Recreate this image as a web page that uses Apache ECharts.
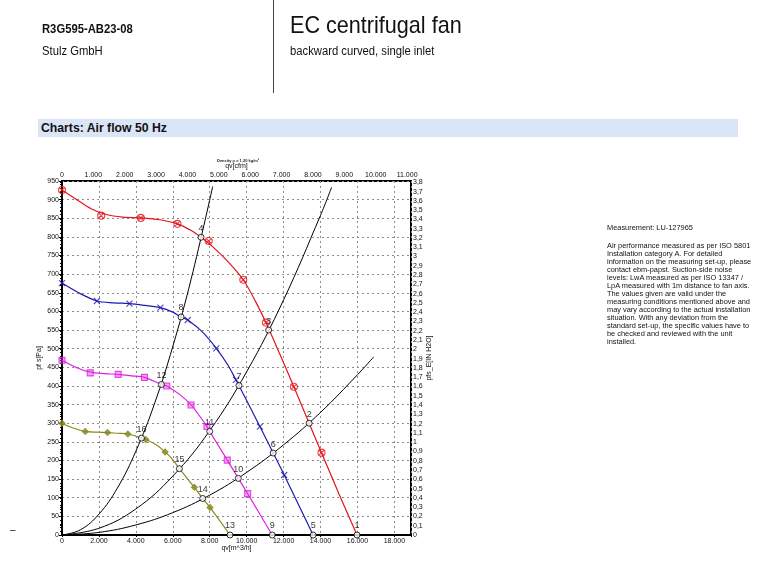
<!DOCTYPE html>
<html>
<head>
<meta charset="utf-8">
<title>R3G595-AB23-08 air flow 50 Hz</title>
<script src="https://cdn.jsdelivr.net/npm/echarts@6/dist/echarts.min.js"></script>
<style>
  body { margin: 0; background: #fff; font-family: "Liberation Sans", Arial, sans-serif; color: #111; }
  #chart { position: absolute; left: 0; top: 0; width: 761px; height: 577px; }
  .t { position: absolute; white-space: nowrap; line-height: 1; transform: scaleX(0.9); transform-origin: 0 0; }
  .vline { position: absolute; left: 273px; top: 0; width: 1px; height: 93px; background: #444; }
  .bar { position: absolute; left: 38px; top: 119px; width: 700px; height: 18px; background: #dbe5f8; }
  .note { position: absolute; left: 607px; top: 242px; font-size: 7.4px; line-height: 8px; white-space: nowrap; }
</style>
</head>
<body>
<div id="chart"></div>
<div class="t" style="left:42px;top:23px;font-size:12.5px;font-weight:bold;">R3G595-AB23-08</div>
<div class="t" style="left:42px;top:45px;font-size:12.5px;">Stulz GmbH</div>
<div class="vline"></div>
<div class="t" style="left:290px;top:13px;font-size:24px;">EC centrifugal fan</div>
<div class="t" style="left:290px;top:45px;font-size:12.5px;">backward curved, single inlet</div>
<div class="bar"></div>
<div class="t" style="left:41px;top:121px;font-size:13px;font-weight:bold;transform:scaleX(0.94);">Charts: Air flow 50 Hz</div>
<div class="t" style="left:10px;top:524px;font-size:11px;">&ndash;</div>
<div class="t" style="left:607px;top:224px;font-size:7.4px;transform:none;">Measurement: LU-127965</div>
<div class="note">Air performance measured as per ISO 5801<br>Installation category A. For detailed<br>information on the measuring set-up, please<br>contact ebm-papst. Suction-side noise<br>levels: LwA measured as per ISO 13347 /<br>LpA measured with 1m distance to fan axis.<br>The values given are valid under the<br>measuring conditions mentioned above and<br>may vary according to the actual installation<br>situation. With any deviation from the<br>standard set-up, the specific values have to<br>be checked and reviewed with the unit<br>installed.</div>
<script>
// air flow qv [m^3/h] against static pressure pf s [Pa]
const redCurve = [[0, 926], [800, 900], [1600, 875], [2400, 860], [3300, 853], [4270, 851], [5300, 846], [6250, 835], [7000, 817], [7530, 799], [8200, 772], [9000, 733], [9816, 685], [10500, 625], [11042, 570], [11800, 485], [12556, 398], [13384, 300], [14053, 221], [15000, 110], [15977, 0]];
const redMarks = [[0, 926], [2124, 857], [4270, 851], [6250, 835], [7945, 789], [9816, 685], [11042, 570], [12556, 398], [14053, 221]];

const blueCurve = [[0, 676], [900, 650], [1892, 628], [2800, 623], [3654, 621], [4500, 616], [5330, 610], [6000, 598], [6448, 585], [6810, 577], [7600, 545], [8356, 501], [9000, 455], [9421, 416], [9583, 401], [10718, 291], [11437, 220], [12032, 161], [13600, 0]];
const blueMarks = [[0, 676], [1892, 628], [3654, 621], [5330, 610], [6810, 577], [8356, 501], [9421, 416], [10718, 291], [12032, 161]];

const pinkCurve = [[0, 469], [800, 449], [1530, 437], [2300, 433], [3043, 431], [3800, 427], [4465, 423], [5384, 404], [5675, 400], [6400, 376], [6989, 349], [7500, 316], [7853, 291], [7999, 278], [8951, 201], [10053, 111], [11383, 0]];
const pinkMarks = [[0, 469], [1530, 435], [3043, 431], [4465, 423], [5675, 400], [6989, 349], [7853, 291], [8951, 201], [10053, 111]];

const oliveCurve = [[0, 300], [600, 287], [1259, 278], [1900, 276], [2465, 275], [3000, 273], [3567, 271], [4303, 260], [4540, 256], [5100, 242], [5583, 223], [6000, 202], [6357, 178], [7168, 128], [7621, 98], [8016, 74], [9097, 0]];
const oliveMarks = [[0, 300], [1259, 278], [2465, 275], [3567, 271], [4540, 256], [5583, 223], [7168, 128], [8016, 74]];

// system resistance curves
const systemA = [[0, 0], [1000, 14], [2000, 56], [3000, 126], [4000, 225], [5000, 351], [6000, 506], [7000, 688], [8160, 935]];
const systemB = [[0, 0], [2000, 18], [4000, 70], [6000, 158], [8000, 280], [10000, 438], [12000, 631], [14000, 858], [14600, 933]];
const systemC = [[0, 0], [2000, 7], [4000, 27], [6000, 60], [8000, 107], [10000, 168], [12000, 242], [14000, 329], [16000, 430], [16880, 478]];

// numbered operating points
const opPoints = [
  [15977, 0, "1"], [13384, 300, "2"], [11190, 550, "3"], [7530, 799, "4"],
  [13600, 0, "5"], [11437, 220, "6"], [9583, 401, "7"], [6448, 585, "8"],
  [11383, 0, "9"], [9548, 152, "10"], [7999, 278, "11"], [5384, 404, "12"],
  [9097, 0, "13"], [7621, 98, "14"], [6357, 178, "15"], [4303, 260, "16"],
];

// rotated curve tags near the free-blowing ends
const curveTags = [[15820, 50], [13560, 40], [11270, 42], [8930, 48]];
const curveTagAngles = [-66, -63, -58, -52];
const curveTagText = "pf s(fs)";

const X_MAX = 18900;   // m^3/h
const Y_MAX = 950;     // Pa
const CFM = 1.699;     // m^3/h per cfm
const PA_PER_INH2O = 249.09;

const RED = "#e3141c";
const BLUE = "#1c1cb0";
const PINK = "#e01ee0";
const OLIVE = "#8a8a22";
const FONT = "Liberation Sans";

function thousands(v) {
  if (v === 0) return "0";
  const k = Math.floor(v / 1000);
  const r = String(Math.round(v % 1000)).padStart(3, "0");
  return `${k}.${r}`;
}

function onStep(v, step) {
  const n = v / step;
  return Math.abs(n - Math.round(n)) < 1e-6;
}

function fanLine(data, color) {
  return {
    type: "line", data, smooth: 0.3, symbol: "none",
    lineStyle: { color, width: 1.2 }, z: 3, silent: true,
  };
}

function marks(data, color, symbol, size, fill) {
  return {
    type: "scatter", data, symbol, symbolSize: size, z: 4, silent: true,
    itemStyle: { color: fill, borderColor: color, borderWidth: 1.1 },
  };
}

function systemLine(data) {
  return {
    type: "line", data, smooth: 0.4, symbol: "none",
    lineStyle: { color: "#000", width: 1 }, z: 2, silent: true,
  };
}

const crossCircle = "path://M0,5a5,5 0 1,0 10,0a5,5 0 1,0 -10,0M1.6,1.6L8.4,8.4M8.4,1.6L1.6,8.4";
const cross = "path://M0,0L10,10M10,0L0,10";

const tagColors = [RED, BLUE, PINK, OLIVE];

function renderChart() {
  const chart = echarts.init(document.getElementById("chart"));
  const axisText = { color: "#111", fontSize: 7, fontFamily: FONT };

  chart.setOption({
    animation: false,
    textStyle: { fontFamily: FONT },
    title: {
      text: "Density \u03c1 = 1,20 kg/m\u00b3",
      left: 212, top: 154,
      textStyle: { fontSize: 4, fontWeight: "bold", color: "#222", fontFamily: FONT },
    },
    grid: {
      left: 62, right: 350, top: 181, bottom: 42,
      show: true, borderColor: "#000", borderWidth: 2, backgroundColor: "transparent",
    },
    xAxis: [
      {
        type: "value", position: "bottom", min: 0, max: X_MAX, interval: 2000,
        name: "qv[m^3/h]", nameLocation: "middle", nameGap: 10, nameMoveOverlap: false,
        nameTextStyle: { fontSize: 7, color: "#111" },
        axisLine: { lineStyle: { color: "#000", width: 2 } },
        axisTick: { length: 2, lineStyle: { color: "#000" } },
        axisLabel: { ...axisText, margin: 3, formatter: (v) => (onStep(v, 2000) ? thousands(v) : "") },
        splitLine: { show: true, lineStyle: { color: "#8c8c8c", type: [2, 3], width: 1 } },
      },
      {
        type: "value", position: "top", min: 0, max: X_MAX / CFM, interval: 1000,
        name: "qv[cfm]", nameLocation: "middle", nameGap: 11, nameMoveOverlap: false,
        nameTextStyle: { fontSize: 7, color: "#111" },
        axisLine: { lineStyle: { color: "#000", width: 2 } },
        axisTick: { show: false },
        axisLabel: { ...axisText, margin: 2, formatter: (v) => (onStep(v, 1000) ? thousands(v) : "") },
        splitLine: { show: false },
      },
    ],
    yAxis: [
      {
        type: "value", position: "left", min: 0, max: Y_MAX, interval: 50,
        name: "pf s[Pa]", nameLocation: "middle", nameGap: 19, nameRotate: 90, nameMoveOverlap: false,
        nameTextStyle: { fontSize: 7, color: "#111" },
        axisLine: { show: true, lineStyle: { color: "#000", width: 2 } },
        axisTick: { length: 3, lineStyle: { color: "#000" } },
        minorTick: { show: true, splitNumber: 5, length: 2, lineStyle: { color: "#000" } },
        axisLabel: { ...axisText, margin: 3 },
        splitLine: { show: true, lineStyle: { color: "#8c8c8c", type: [2, 3], width: 1 } },
      },
      {
        type: "value", position: "right", min: 0, max: Y_MAX / PA_PER_INH2O, interval: 0.1,
        name: "pfs_E[IN H2O]", nameLocation: "middle", nameGap: 15, nameRotate: 90, nameMoveOverlap: false,
        nameTextStyle: { fontSize: 7, color: "#111" },
        axisLine: { show: true, lineStyle: { color: "#000", width: 2 } },
        axisTick: { length: 2, inside: true, lineStyle: { color: "#000" } },
        axisLabel: {
          ...axisText, margin: 2,
          formatter: (v) => (onStep(v, 0.1) ? String(Math.round(v * 10) / 10).replace(".", ",") : ""),
        },
        splitLine: { show: false },
      },
    ],
    series: [
      systemLine(systemA),
      systemLine(systemB),
      systemLine(systemC),
      fanLine(redCurve, RED),
      fanLine(blueCurve, BLUE),
      fanLine(pinkCurve, PINK),
      fanLine(oliveCurve, OLIVE),
      marks(redMarks, RED, crossCircle, 7, "rgba(255,255,255,0)"),
      marks(blueMarks, BLUE, cross, 6, "rgba(255,255,255,0)"),
      marks(pinkMarks, PINK, "rect", 6, "rgba(230,60,230,0.55)"),
      marks(oliveMarks, OLIVE, "diamond", 6, OLIVE),
      {
        type: "scatter", z: 5, silent: true,
        data: opPoints.map((p) => ({ value: [p[0], p[1]], name: p[2] })),
        symbol: "circle", symbolSize: 6,
        itemStyle: { color: "#fff", borderColor: "#000", borderWidth: 1 },
        label: {
          show: true, position: "top", distance: 1, formatter: (p) => p.name,
          color: "#000", fontSize: 9, fontFamily: FONT,
        },
      },
      ...curveTags.map((pt, i) => ({
        type: "scatter", z: 5, silent: true, data: [pt], symbol: "none",
        label: {
          show: true, position: "inside", formatter: curveTagText, rotate: curveTagAngles[i],
          color: tagColors[i], fontSize: 6.5, fontFamily: FONT,
        },
      })),
    ],
  });
}

document.addEventListener("DOMContentLoaded", renderChart);
</script>
</body>
</html>
